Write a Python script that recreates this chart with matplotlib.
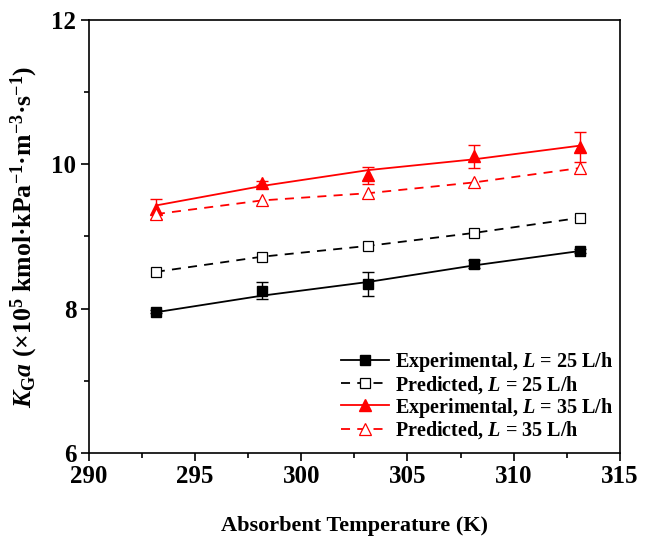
import matplotlib
matplotlib.use("Agg")
import matplotlib.pyplot as plt
from matplotlib.ticker import MultipleLocator

plt.rcParams['font.family'] = ['Liberation Serif', 'DejaVu Serif']
plt.rcParams['font.weight'] = 'bold'
plt.rcParams['mathtext.fontset'] = 'custom'
plt.rcParams['mathtext.rm'] = 'Liberation Serif:bold'
plt.rcParams['mathtext.it'] = 'Liberation Serif:bold:italic'
plt.rcParams['mathtext.bf'] = 'Liberation Serif:bold'

temps = [293.15, 298.15, 303.15, 308.15, 313.15]

exp25 = [7.96, 8.25, 8.34, 8.62, 8.80]
exp25_err = [0.02, 0.12, 0.17, 0.05, 0.03]
exp25_fit = [7.95, 8.18, 8.37, 8.60, 8.80]
pred25 = [8.51, 8.72, 8.87, 9.05, 9.26]

exp35 = [9.38, 9.74, 9.85, 10.11, 10.24]
exp35_err = [0.14, 0.03, 0.12, 0.16, 0.21]
exp35_fit = [9.43, 9.70, 9.92, 10.07, 10.26]
pred35 = [9.31, 9.50, 9.60, 9.75, 9.95]

labels = ['Experimental, $\\mathit{L}$ = 25 L/h',
          'Predicted, $\\mathit{L}$ = 25 L/h',
          'Experimental, $\\mathit{L}$ = 35 L/h',
          'Predicted, $\\mathit{L}$ = 35 L/h']

fig = plt.figure(figsize=(6.51, 5.41), dpi=100)
ax = fig.add_axes([0.1367, 0.1627, 0.8153, 0.8003])

red = '#ff0000'
# experimental 25
ax.errorbar(temps, exp25, yerr=exp25_err, fmt='none', ecolor='black', elinewidth=1, capsize=4, capthick=1)
ax.plot(temps, exp25_fit, color='black', lw=1.3)
ax.plot(temps, exp25, ls='none', marker='s', ms=6.5, color='black')
h1, = ax.plot([], [], color='black', lw=1.3, marker='s', ms=6.5)
# predicted 25
h2, = ax.plot(temps, pred25, color='black', lw=1.3, ls=(0, (5, 4)), marker='s', ms=6.5,
              mfc='white', mec='black', mew=0.9)
# experimental 35
ax.errorbar(temps, exp35, yerr=exp35_err, fmt='none', ecolor=red, elinewidth=1, capsize=4, capthick=1)
ax.plot(temps, exp35_fit, color=red, lw=1.3)
ax.plot(temps, exp35, ls='none', marker='^', ms=8, color=red)
h3, = ax.plot([], [], color=red, lw=1.3, marker='^', ms=8)
# predicted 35
h4, = ax.plot(temps, pred35, color=red, lw=1.3, ls=(0, (5, 4)), marker='^', ms=8,
              mfc='white', mec=red, mew=0.9)

ax.set_xlim(290, 315)
ax.set_ylim(6, 12)
ax.xaxis.set_major_locator(MultipleLocator(5))
ax.xaxis.set_minor_locator(MultipleLocator(2.5))
ax.yaxis.set_major_locator(MultipleLocator(2))
ax.yaxis.set_minor_locator(MultipleLocator(1))
ax.tick_params(which='both', direction='out', top=False, right=False, width=1.2)
ax.tick_params(which='major', length=6, labelsize=18, pad=3)
ax.tick_params(which='minor', length=3.5)
for s in ax.spines.values():
    s.set_linewidth(1.2)
for lab in ax.get_xticklabels() + ax.get_yticklabels():
    lab.set_fontweight('bold')

ax.set_xlabel('Absorbent Temperature (K)', fontsize=16, fontweight='bold', labelpad=20)
ax.set_ylabel('$\\mathit{K}_{\\mathrm{G}}\\mathit{a}$ (×10$^{5}$ kmol·kPa$^{-1}$·m$^{-3}$·s$^{-1}$)',
              fontsize=18.5, fontweight='bold', labelpad=8)

leg = ax.legend([h1, h2, h3, h4], labels, loc='lower right', frameon=False,
                prop={'family': 'Liberation Serif', 'weight': 'bold', 'size': 14.5},
                handlelength=2.4, handletextpad=0.3, labelspacing=0.0,
                bbox_to_anchor=(1.023, -0.015))

fig.savefig('out.png', dpi=100)
